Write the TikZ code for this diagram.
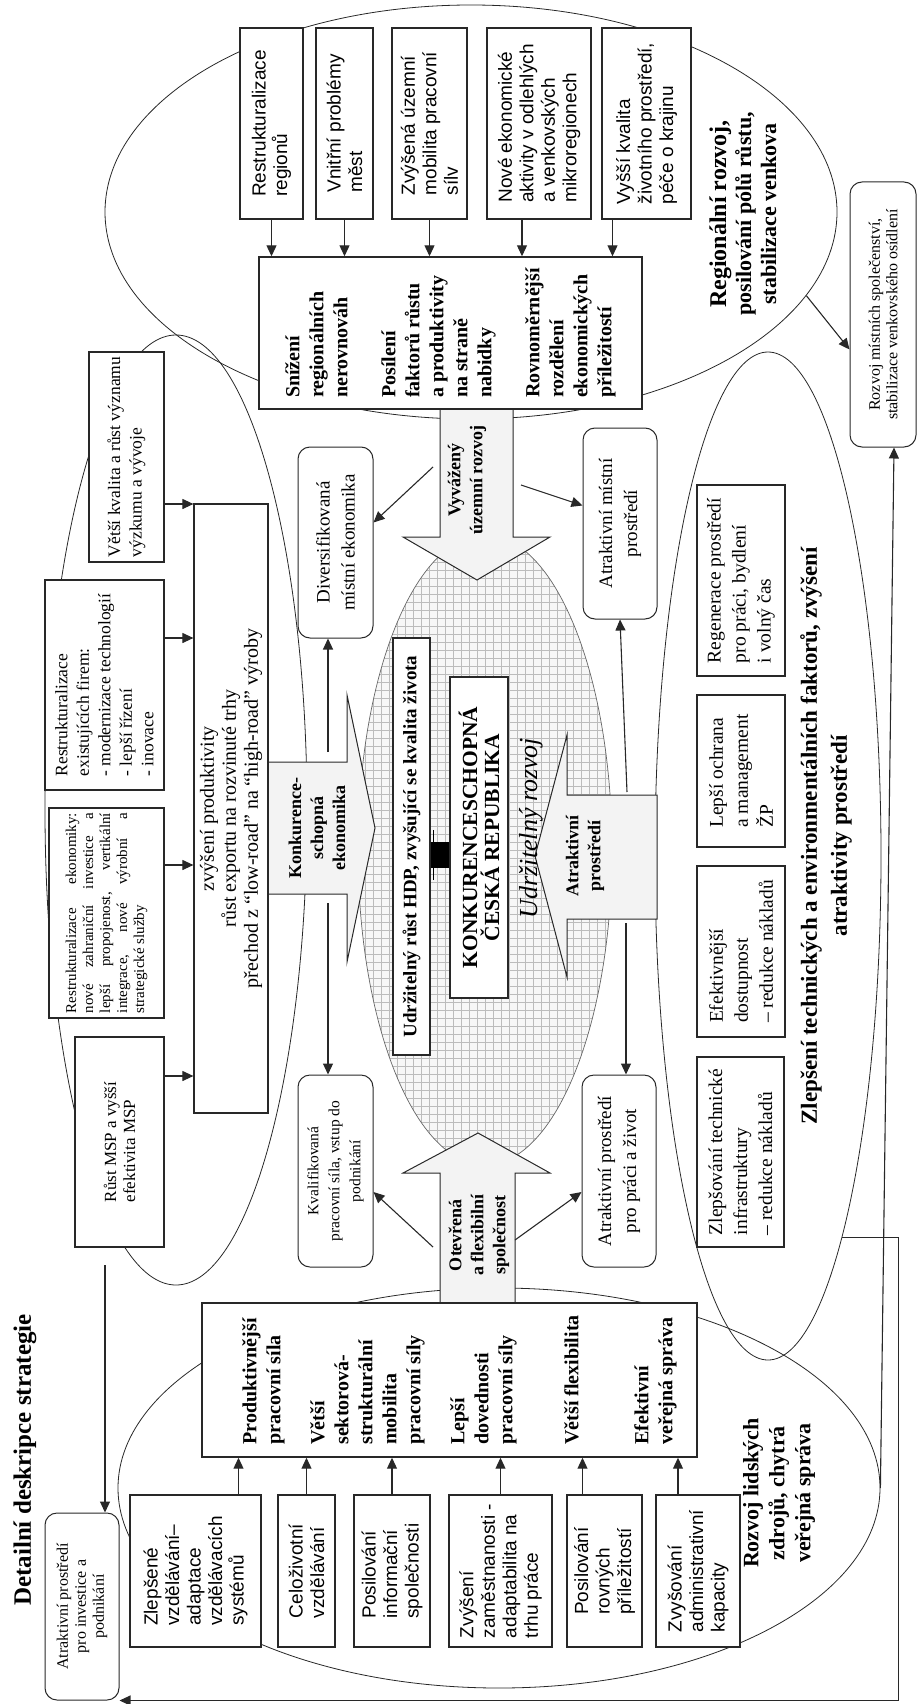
\documentclass[tikz,border=0pt]{standalone}
\usepackage{fontspec}
\setmainfont{Liberation Serif}
\setsansfont{Liberation Sans}
\usetikzlibrary{arrows.meta,shapes.geometric}
\definecolor{arrowfill}{RGB}{243,243,243}
\definecolor{gridgray}{RGB}{188,188,188}
\definecolor{inkgray}{RGB}{40,40,40}
\tikzset{
  wire/.style={inkgray,line width=1.1pt},
  arr/.style={wire,-{Triangle[length=11pt,width=10pt]}},
  oval/.style={draw=inkgray,line width=0.8pt,ellipse,inner sep=0pt},
  sidebox/.style={draw=inkgray,fill=white,line width=1.2pt,rotate=90,align=left,inner sep=4pt,
    font=\sffamily\fontsize{19}{21.5}\selectfont},
  textbox/.style={sidebox,font=\fontsize{17.5}{21.5}\selectfont},
  envbox/.style={sidebox,font=\fontsize{19.5}{25}\selectfont},
  bigbox/.style={sidebox,line width=1.4pt,font=\bfseries\fontsize{20}{24}\selectfont},
  softbox/.style={sidebox,rounded corners=12pt,line width=1pt,align=center,
    font=\fontsize{19}{25}\selectfont},
  fatarrow/.style={draw=inkgray,fill=arrowfill,line width=1pt},
  fatlab/.style={rotate=90,align=center,font=\bfseries\fontsize{18}{22}\selectfont},
  ovallab/.style={rotate=90,align=center,font=\bfseries\fontsize{22}{25}\selectfont},
}
\begin{document}
\begin{tikzpicture}[x=1pt,y=-1pt]
  \useasboundingbox (0,0) rectangle (920,1704);

  % ovals of the five areas
  \node[oval,minimum width=732pt,minimum height=414pt] (regov) at (471,212) {};
  \node[oval,minimum width=262pt,minimum height=950pt] (ecoov) at (176,810) {};
  \node[oval,minimum width=226pt,minimum height=1008pt] (envov) at (768,856) {};
  \node[oval,minimum width=762pt,minimum height=400pt] (hrov) at (499,1488) {};
  \node[oval,draw=black!60,line width=0.7pt,fill=black!3,minimum width=254pt,minimum height=630pt,
    path picture={\draw[gridgray,line width=0.5pt] (path picture bounding box.south west)
      grid[step=8pt] (path picture bounding box.north east);}] (core) at (485,850) {};

  % block arrows
  \draw[fatarrow] (268,762) -- (347,762) -- (347,695) -- (375,828) -- (347,962) -- (347,894) -- (268,894) -- cycle;
  \draw[fatarrow] (440,409) -- (440,537) -- (403,537) -- (477,580) -- (550,537) -- (513,537) -- (513,409) -- cycle;
  \draw[fatarrow] (657,795) -- (567,795) -- (567,735) -- (535,856) -- (567,977) -- (567,919) -- (657,919) -- cycle;
  \draw[fatarrow] (440,1303) -- (440,1173) -- (403,1173) -- (478,1133) -- (550,1173) -- (515,1173) -- (515,1303) -- cycle;

  \node[sidebox,minimum width=191pt,minimum height=63pt] (R1) at (271.5,123.5) {Restrukturalizace\\regionů};
  \node[sidebox,minimum width=191pt,minimum height=57pt] (R2) at (344.5,123.5) {Vnitřní problémy\\měst};
  \node[sidebox,minimum width=191pt,minimum height=75pt] (R3) at (429.5,123.5) {Zvýšená územní\\mobilita pracovní\\sílv};
  \node[sidebox,minimum width=191pt,minimum height=104pt] (R4) at (539,123.5) {Nové ekonomické\\aktivity v odlehlých\\a venkovských\\mikroregionech};
  \node[sidebox,minimum width=191pt,minimum height=89pt] (R5) at (646.5,123.5) {Vyšší kvalita\\životního prostředí,\\péče o krajinu};
  \node[bigbox,minimum width=152pt,minimum height=383pt] (RB) at (450.5,333)
    {Snížení\\regionálních\\nerovnováh\\[24pt]Posílení\\faktorů růstu\\a produktivity\\na straně\\nabidky\\[24pt]Rovnoměrnější\\rozdělení\\ekonomických\\příležitostí};

  \node[textbox,minimum width=210pt,minimum height=75pt] (E1) at (126.5,457) {Větší kvalita a růst významu\\výzkumu a vývoje};
  \node[textbox,minimum width=210pt,minimum height=119pt] (E2) at (104.5,685)
    {Restrukturalizace\\existujících firem:\\- modernizace technologií\\- lepší řízení\\- inovace};
  \node[textbox,align=justify,text width=200pt,font=\fontsize{15}{17}\selectfont,minimum width=210pt,minimum height=115pt] (E3) at (106.5,913)
    {Restrukturalizace ekonomiky:\linebreak nové zahraniční investice a\linebreak lepší propojenost, vertikální\linebreak integrace, nové výrobní a\linebreak strategické služby};
  \node[textbox,font=\fontsize{17}{19}\selectfont,minimum width=210pt,minimum height=89pt] (E4) at (119.5,1142) {Růst MSP a vyšší\\efektivita MSP};
  \node[sidebox,align=center,font=\fontsize{20}{22}\selectfont,minimum width=609pt,minimum height=74pt] (EB) at (231,808.5)
    {zvýšení produktivity\\růst exportu na rozvinuté trhy\\přechod z “low-road” na “high-road” výroby};

  \node[envbox,minimum width=191pt,minimum height=88pt] (V1) at (741,580.5) {Regenerace prostředí\\pro práci, bydlení\\i volný čas};
  \node[envbox,minimum width=152pt,minimum height=88pt] (V2) at (741,771) {Lepší ochrana\\a management\\ŽP};
  \node[envbox,minimum width=171pt,minimum height=88pt] (V3) at (741,951.5) {Efektivnější\\dostupnost\\– redukce nákladů};
  \node[envbox,minimum width=190pt,minimum height=87pt] (V4) at (740.5,1152) {Zlepšování technické\\infrastruktury\\– redukce nákladů};

  \node[sidebox,minimum width=152pt,minimum height=131pt] (H1) at (195.5,1571) {Zlepšené\\vzdělávání–\\adaptace\\vzdělávacích\\systémů};
  \node[sidebox,minimum width=152pt,minimum height=57pt] (H2) at (306.5,1571) {Celoživotní\\vzdělávání};
  \node[sidebox,minimum width=152pt,minimum height=76pt] (H3) at (392,1571) {Posilování\\informační\\společnosti};
  \node[sidebox,minimum width=152pt,minimum height=103pt] (H4) at (500.5,1571) {Zvýšení\\zaměstnanosti -\\adaptabilita na\\trhu práce};
  \node[sidebox,minimum width=152pt,minimum height=75pt] (H5) at (604.5,1571) {Posilování\\rovných\\příležitostí};
  \node[sidebox,minimum width=152pt,minimum height=84pt] (H6) at (698,1571) {Zvyšování\\administrativní\\kapacity};
  \node[bigbox,minimum width=154pt,minimum height=495pt] (HB) at (449.5,1380)
    {\rule{0pt}{34pt}Produktivnější\\pracovní síla\\[20pt]Větší\\sektorová-\\strukturální\\mobilita\\pracovní síly\\[20pt]Lepší\\dovednosti\\pracovní síly\\[42pt]Větší flexibilita\\[46pt]Efektivní\\veřejná správa};

  \node[softbox,minimum width=191pt,minimum height=75pt] (D1) at (335.5,542.5) {Diversifikovaná\\místní ekonomika};
  \node[softbox,font=\fontsize{15.5}{21}\selectfont,minimum width=192pt,minimum height=75pt] (D2) at (335.5,1171) {Kvalifikovaná\\pracovní síla, vstup do\\podnikání};
  \node[softbox,minimum width=191pt,minimum height=74pt] (D3) at (620,523.5) {Atraktivní místní\\prostředí};
  \node[softbox,minimum width=192pt,minimum height=74pt] (D4) at (619,1171) {Atraktivní prostředí\\pro práci a život};
  \node[softbox,font=\fontsize{16}{17.5}\selectfont,minimum width=265pt,minimum height=66pt] (DR) at (883,314.5) {Rozvoj místních společenství,\\stabilizace venkovského osídlení};
  \node[softbox,font=\fontsize{16}{18}\selectfont,minimum width=187pt,minimum height=74pt] (DI) at (82,1606.5) {Atraktivní prostředí\\pro investice a\\podnikání};

  \node[sidebox,align=center,font=\bfseries\fontsize{19}{21}\selectfont,inner sep=2pt,minimum width=417pt,minimum height=37pt] (UR) at (411.5,846.5)
    {Udržitelný růst HDP, zvyšující se kvalita života};
  \node[sidebox,align=center,line width=1.4pt,font=\bfseries\fontsize{21.5}{22}\selectfont,minimum width=321pt,minimum height=58pt] (KCR) at (479,837.5)
    {KONKURENCESCHOPNÁ\\ČESKÁ REPUBLIKA};
  \coordinate (link) at (440,855);
  \draw[line width=26pt] (link -| UR.south) -- (link -| KCR.north);
  \draw[line width=1.2pt] (link -| UR.south) ++(3,-25) -- ++(0,50);

  \node[fatlab] (KAt) at (317,828) {Konkurence-\\schopná\\ekonomika};
  \node[fatlab] (VAt) at (467,480) {Vyvážený\\územní rozvoj};
  \node[fatlab] (AAt) at (585,856) {Atraktivní\\prostředí};
  \node[fatlab] (OAt) at (479,1235) {Otevřená\\a flexibilní\\společnost};
  \node[rotate=90,font=\itshape\fontsize{26}{28}\selectfont] (UZ) at (531,828) {Udržitelný rozvoj};

  \node[ovallab] (REGt) at (743,214) {{\fontsize{24}{25}\selectfont Regionální rozvoj,}\\posilování pólů růstu,\\stabilizace venkova};
  \node[ovallab,font=\bfseries\fontsize{22}{26}\selectfont] (HRt) at (779,1493) {Rozvoj lidských\\zdrojů, chytrá\\veřejná správa};
  \node[ovallab,font=\bfseries\fontsize{23}{30}\selectfont] (ENVt) at (826,836)
    {Zlepšení technických a environmentálních faktorů, zvýšení\\atraktivity prostředí};
  \node[rotate=90,font=\bfseries\fontsize{25}{28}\selectfont] (title) at (25,1460) {Detailní deskripce strategie};

  % connectors
  \foreach \n in {R1,R2,R3}
    \draw[arr] (\n.west) -- (\n.west |- RB.east);
  \draw[arr] (R4.west) ++(-17,0) coordinate (r4o) -- (r4o |- RB.east);
  \draw[arr] (R5.west) ++(-34,0) coordinate (r5o) -- (r5o |- RB.east);
  \draw[arr] (E1.south) ++(0,47) coordinate (e1o) -- (e1o -| EB.north);
  \draw[arr] (E2.south) ++(0,-47) coordinate (e2o) -- (e2o -| EB.north);
  \draw[arr] (E3.south) ++(0,-48) coordinate (e3o) -- (e3o -| EB.north);
  \draw[arr] (E4.south) ++(0,-66) coordinate (e4o) -- (e4o -| EB.north);
  \draw[arr] (H1.east) ++(43,0) coordinate (h1o) -- (h1o |- HB.west);
  \foreach \n in {H2,H3,H4}
    \draw[arr] (\n.east) -- (\n.east |- HB.west);
  \draw[arr] (H5.east) ++(-22,0) coordinate (h5o) -- (h5o |- HB.west);
  \draw[arr] (H6.east) ++(-20,0) coordinate (h6o) -- (h6o |- HB.west);

  \coordinate (ka1) at (328,752);
  \coordinate (ka2) at (328,903);
  \coordinate (va1) at (433,467);
  \coordinate (va2) at (521,485);
  \coordinate (aa1) at (627,792);
  \coordinate (aa2) at (626,923);
  \coordinate (oa1) at (433,1247);
  \coordinate (oa2) at (515,1240);
  \coordinate (ecoout) at (105,1265);
  \draw[arr] (ka1) -- (ka1 |- D1.west);
  \draw[arr] (ka2) -- (ka2 |- D2.east);
  \draw[arr] (va1) -- ([yshift=20pt]D1.south);
  \draw[arr] (va2) -- ([yshift=18pt]D3.north);
  \draw[arr] (aa1) -- (D3.west);
  \draw[arr] (aa2) -- (aa2 |- D4.east);
  \draw[arr] (oa1) -- ([yshift=-21pt]D2.south);
  \draw[arr] (oa2) -- ([yshift=-21pt]D4.north);
  \draw[arr] (regov.-14) -- ([yshift=-35pt]DR.north);
  \draw[arr] (hrov.east) -- ([xshift=11pt]DR.west);
  \draw[arr] (envov.-79.7) -- ++(56,0) |- (DI.south west);
  \draw[arr] (ecoout) -- (ecoout |- DI.east);
\end{tikzpicture}
\end{document}
